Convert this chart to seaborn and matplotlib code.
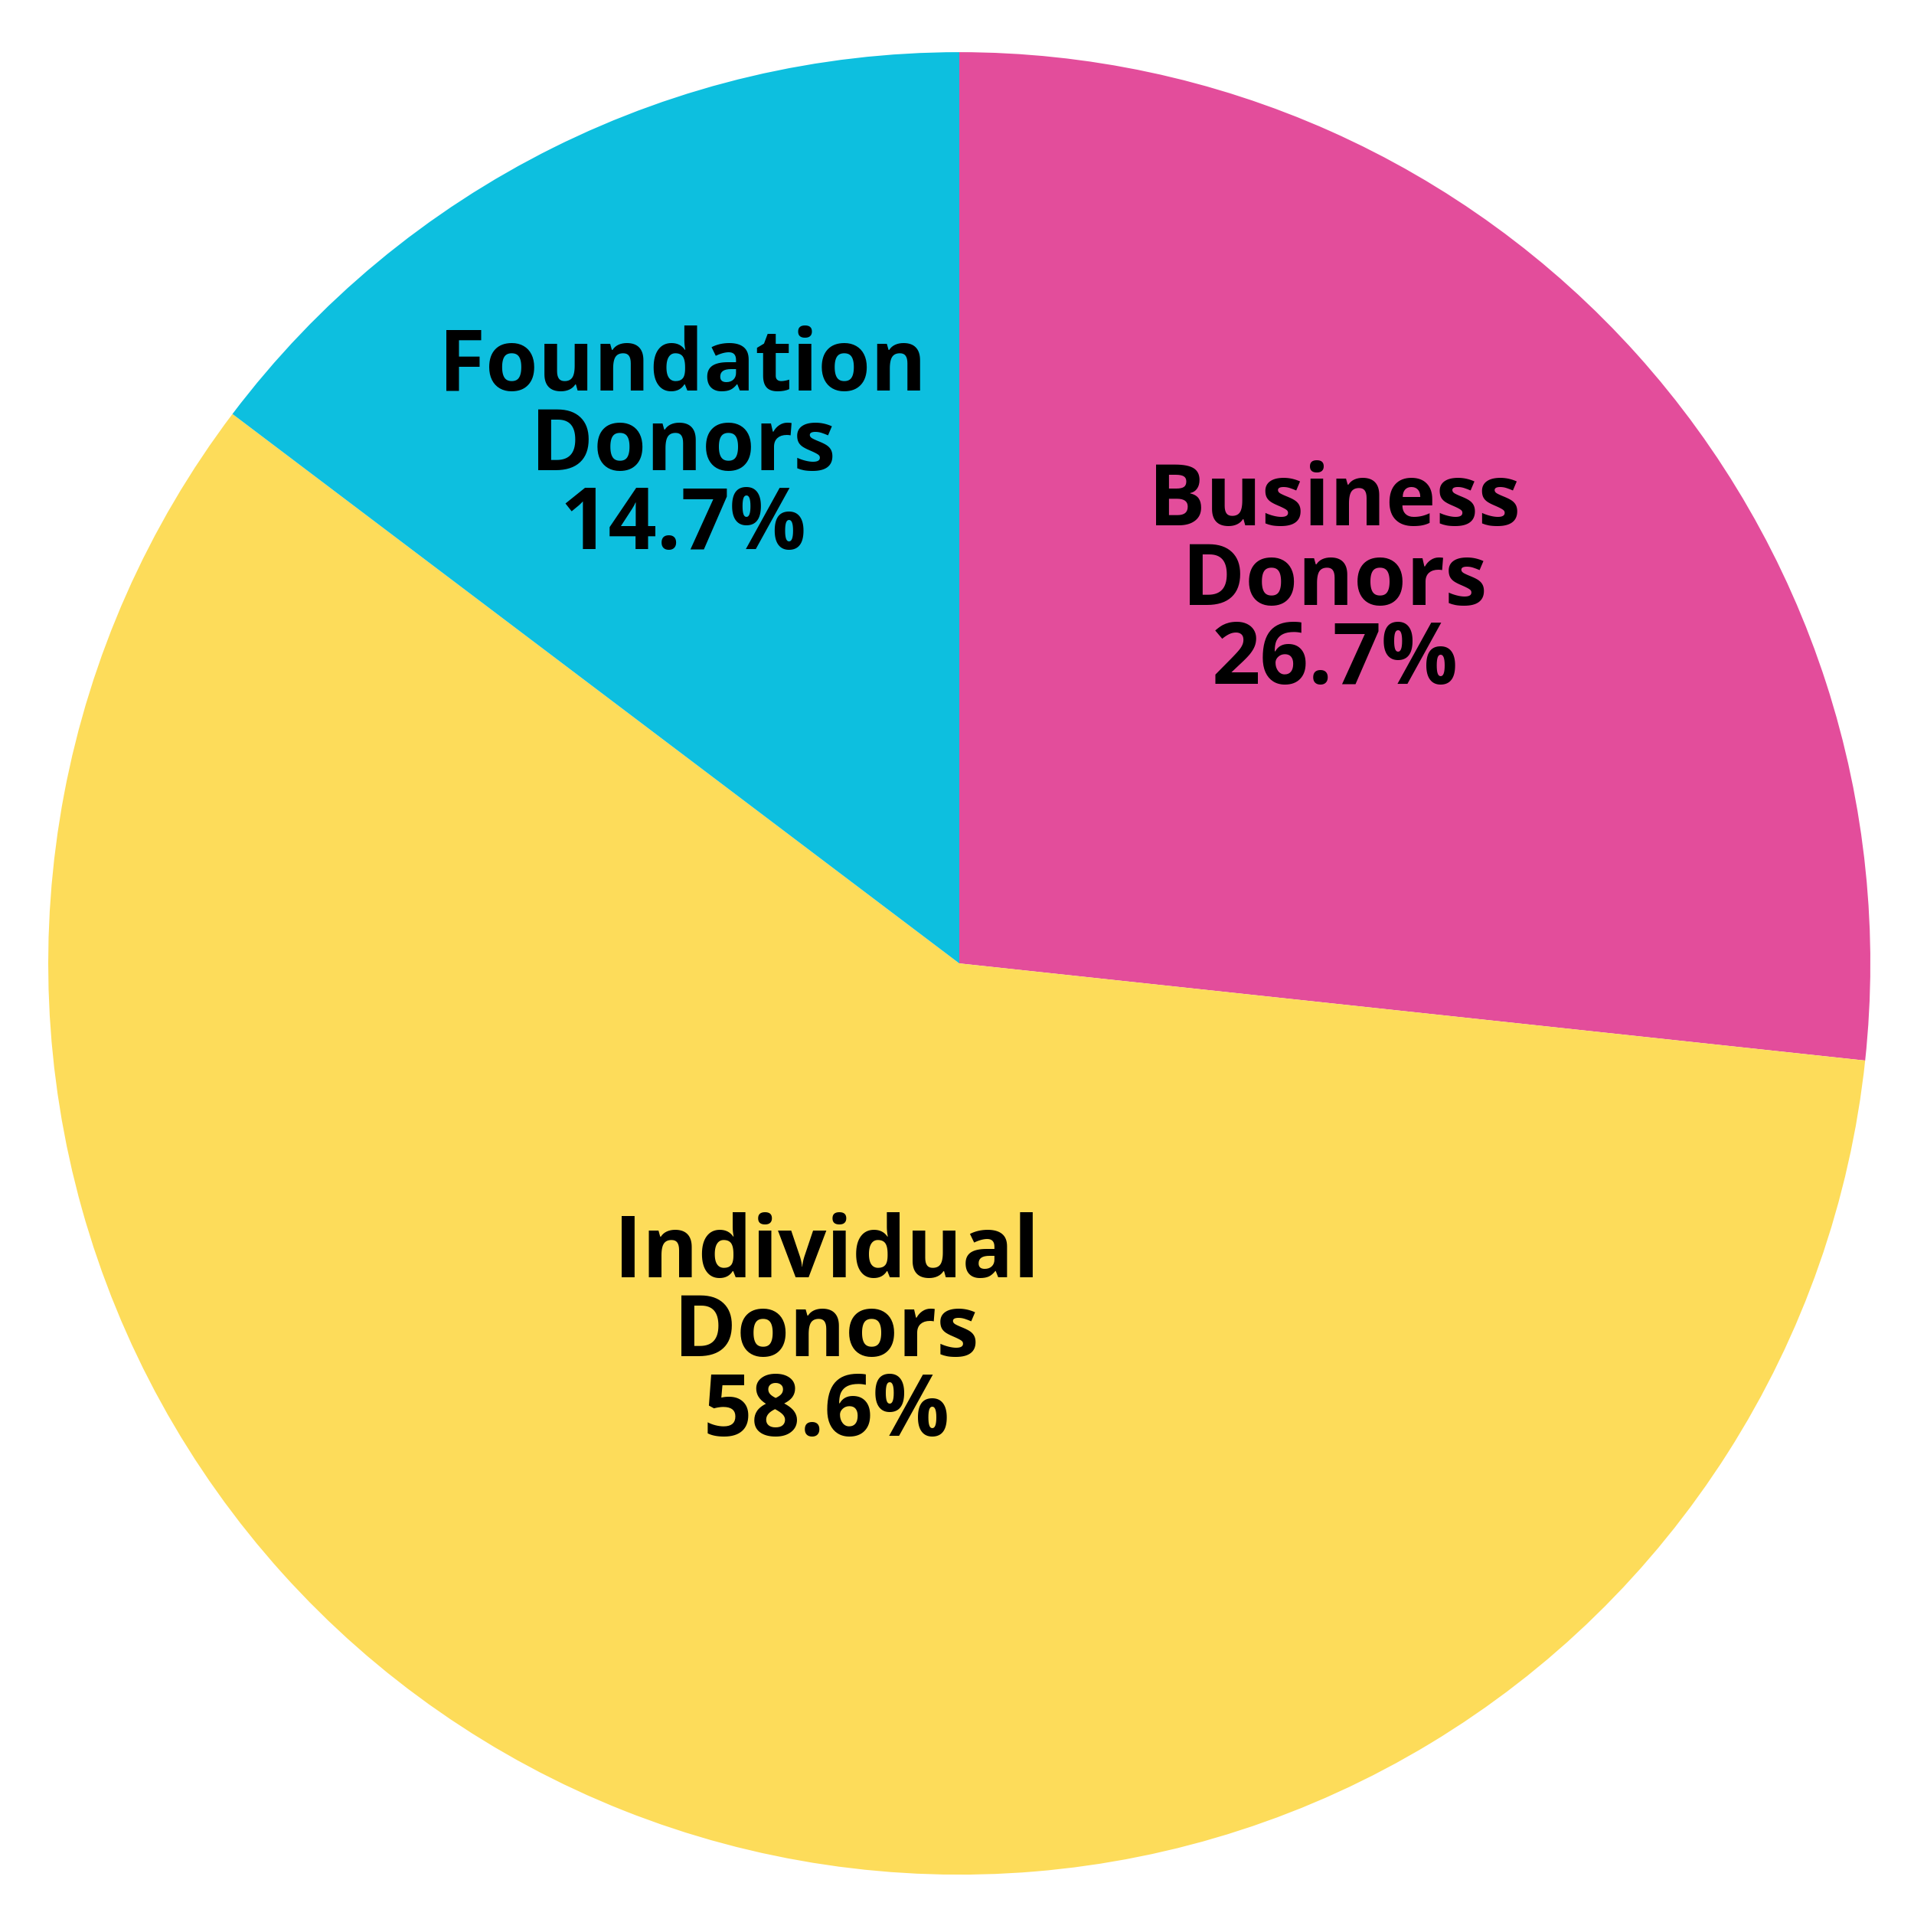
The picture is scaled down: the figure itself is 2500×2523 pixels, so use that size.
import numpy as np
import matplotlib
matplotlib.use("Agg")
import matplotlib.pyplot as plt
import seaborn as sns

# ==========================================
# Data
# ==========================================
labels = ["Business\nDonors", "Individual\nDonors", "Foundation\nDonors"]
shares = [26.7, 58.6, 14.7]
colors = ["#E34D9B", "#FDDC5A", "#0DBFDF"]

# label placement (fraction of radius, angle in degrees)
label_dist = [0.587, 0.432, 0.642]
label_angle = [45.4, 250.3, 118.2]

sns.set_style("white")
plt.rcParams['font.family'] = ['Open Sans', 'DejaVu Sans']

# ==========================================
# Pie
# ==========================================
fig = plt.figure(figsize=(25, 25.23), dpi=100)
ax = fig.add_axes([0.0252, 0.0297, 0.952, 0.9433])

wedges, _ = ax.pie(
    shares,
    colors=colors,
    startangle=90,
    counterclock=False,
    radius=1.0,
    wedgeprops=dict(linewidth=0),
)

for lab, val, d, a in zip(labels, shares, label_dist, label_angle):
    t = np.deg2rad(a)
    ax.text(d * np.cos(t), d * np.sin(t), f"{lab}\n{val}%",
            ha="center", va="center", fontsize=80, fontweight="bold",
            color="black", linespacing=0.9)

ax.set_xlim(-1, 1)
ax.set_ylim(-1, 1)
ax.set_aspect("equal")
ax.axis("off")

fig.savefig("out.png", dpi=100, facecolor="white")
